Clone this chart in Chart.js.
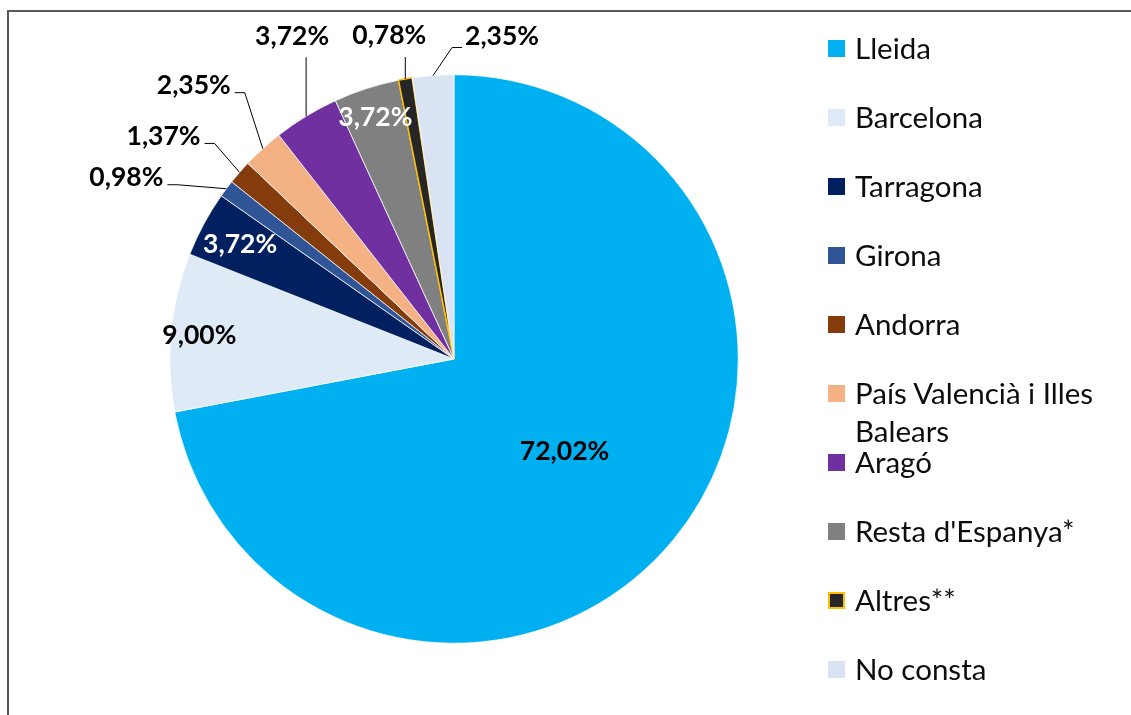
<!DOCTYPE html>
<html>
<head>
<meta charset="utf-8">
<script src="https://cdn.jsdelivr.net/npm/chart.js@4.4.1/dist/chart.umd.min.js"></script>
<style>
  html, body { margin: 0; padding: 0; background: #fff; overflow: hidden; }
  #wrap { position: absolute; left: 0; top: 0; width: 1131px; height: 715px; }
  #frame {
    position: absolute; left: 7px; top: 10px; width: 1200px; height: 800px;
    border-left: 2px solid #595959; border-top: 2px solid #595959;
  }
  #legend { position: absolute; left: 828px; top: 13.5px; font-family: Lato, 'Open Sans', sans-serif; }
  .row { position: relative; height: 69px; width: 295px; }
  .box { position: absolute; left: 0; top: 26px; width: 17px; height: 17px; box-sizing: border-box; }
  .txt { position: absolute; left: 27px; top: 15.5px; width: 255px; line-height: 38px; font-size: 29.5px; color: #0d0d0d; }
</style>
</head>
<body>
<div id="wrap">
  <div id="frame"></div>
  <canvas id="pie"></canvas>
  <div id="legend"></div>
</div>
<script>
// categories and shares (%), clockwise from 12 o'clock
const categories = [
  'Lleida', 'Barcelona', 'Tarragona', 'Girona', 'Andorra',
  'País Valencià i Illes Balears', 'Aragó', "Resta d'Espanya*", 'Altres**', 'No consta'
];
const shares = [72.02, 9.00, 3.72, 0.98, 1.37, 2.35, 3.72, 3.72, 0.78, 2.35];

const sliceColors = [
  '#00B0F0', '#DEEAF6', '#002060', '#2F5597', '#843C0C',
  '#F4B183', '#7030A0', '#808080', '#262626', '#DAE3F3'
];
const sliceBorders = ['#fff', '#fff', '#fff', '#fff', '#fff', '#fff', '#fff', '#fff', '#FFC000', '#fff'];
const sliceBorderW = [0.75, 0.75, 0.75, 0.75, 0.75, 0.75, 0.75, 0.75, 1.5, 0.75];

// where each percentage goes: inside at a fraction of the radius,
// or outside, offset from the middle of the slice's outer edge
const labelPlace = [
  { r: 0.505 }, { r: 0.9 }, { r: 0.855 },
  { dx: -100, dy: -12 }, { dx: -76, dy: -37 }, { dx: -69, dy: -64 },
  { dx: -14, dy: -81 }, { r: 0.897 }, { dx: -16, dy: -44 }, { dx: 69, dy: -40 }
];
const labelColors = ['#000', '#000', '#fff', '#000', '#000', '#000', '#000', '#fff', '#000', '#000'];

const fmtPct = v => v.toFixed(2).replace('.', ',') + '%';

/* ─── labels + leader lines ─────────────── */
const pieLabels = {
  id: 'pieLabels',
  afterDatasetsDraw(chart) {
    const ctx = chart.ctx;
    const meta = chart.getDatasetMeta(0);
    const vals = chart.data.datasets[0].data;
    ctx.save();
    ctx.font = 'bold 26.5px Lato, "Open Sans", sans-serif';
    ctx.textAlign = 'center';
    ctx.textBaseline = 'middle';
    meta.data.forEach((arc, i) => {
      const p = arc.getProps(['x', 'y', 'startAngle', 'endAngle', 'outerRadius'], true);
      const mid = (p.startAngle + p.endAngle) / 2;
      const place = labelPlace[i];
      const text = fmtPct(vals[i]);
      const ex = p.x + Math.cos(mid) * p.outerRadius;
      const ey = p.y + Math.sin(mid) * p.outerRadius;
      let cx, cy;
      if (place.r !== undefined) {
        cx = p.x + Math.cos(mid) * p.outerRadius * place.r;
        cy = p.y + Math.sin(mid) * p.outerRadius * place.r;
      } else {
        cx = ex + place.dx;
        cy = ey + place.dy;
        const w = ctx.measureText(text).width;
        const left = cx - w / 2, right = cx + w / 2;
        ctx.strokeStyle = '#000';
        ctx.lineWidth = 1;
        ctx.beginPath();
        if (ex >= left && ex <= right) {
          ctx.moveTo(ex, cy + 22);
          ctx.lineTo(ex, ey);
        } else if (ex > right) {
          ctx.moveTo(right + 4, cy + 8);
          ctx.lineTo(right + 14, cy + 8);
          ctx.lineTo(ex, ey);
        } else {
          ctx.moveTo(left - 3, cy + 12);
          ctx.lineTo(left - 13, cy + 12);
          ctx.lineTo(ex, ey);
        }
        ctx.stroke();
      }
      ctx.fillStyle = labelColors[i];
      ctx.fillText(text, cx, cy + 1);
    });
    ctx.restore();
  }
};

const chart = new Chart(document.getElementById('pie'), {
  type: 'pie',
  data: {
    labels: categories,
    datasets: [{
      data: shares,
      backgroundColor: sliceColors,
      borderColor: sliceBorders,
      borderWidth: sliceBorderW,
    }]
  },
  options: {
    responsive: true,
    maintainAspectRatio: false,
    animation: false,
    layout: { padding: { left: 169, top: 74, right: 392, bottom: 71 } },
    plugins: { legend: { display: false }, tooltip: { enabled: false } }
  },
  plugins: [pieLabels]
});

// legend, built from the chart data
const legend = document.getElementById('legend');
chart.data.labels.forEach((lab, i) => {
  const row = document.createElement('div');
  row.className = 'row';
  const box = document.createElement('div');
  box.className = 'box';
  box.style.background = sliceColors[i];
  if (sliceBorders[i] !== '#fff') box.style.border = '2px solid ' + sliceBorders[i];
  const txt = document.createElement('div');
  txt.className = 'txt';
  txt.textContent = lab;
  row.appendChild(box);
  row.appendChild(txt);
  legend.appendChild(row);
});
</script>
</body>
</html>
